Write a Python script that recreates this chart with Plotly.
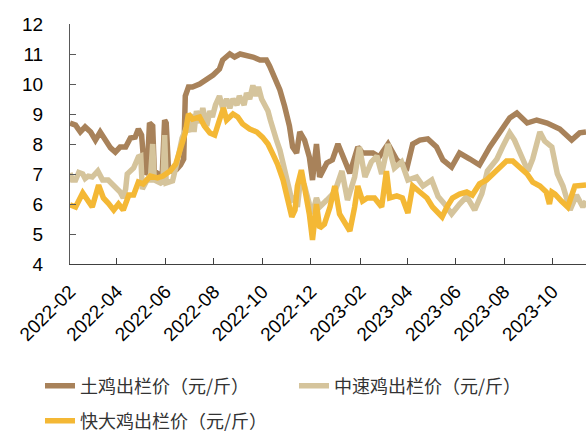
import plotly.graph_objects as go

# ---------------- data ----------------
tuji_dates = ["2022-02-01","2022-02-08","2022-02-14","2022-02-20","2022-02-27","2022-03-05","2022-03-11",
    "2022-03-18","2022-03-24","2022-03-30","2022-04-05","2022-04-12","2022-04-18","2022-04-24","2022-04-28",
    "2022-05-02","2022-05-06","2022-05-09","2022-05-12","2022-05-16","2022-05-18","2022-05-23","2022-05-28",
    "2022-05-31","2022-06-02","2022-06-05","2022-06-10","2022-06-15","2022-06-20","2022-06-24","2022-06-26",
    "2022-06-30","2022-07-05","2022-07-14","2022-07-23","2022-07-31","2022-08-08","2022-08-12","2022-08-21",
    "2022-08-27","2022-09-03","2022-09-11","2022-09-19","2022-09-28","2022-10-06","2022-10-10","2022-10-16",
    "2022-10-23","2022-10-29","2022-11-04","2022-11-08","2022-11-13","2022-11-17","2022-11-23","2022-11-29",
    "2022-12-03","2022-12-08","2022-12-12","2022-12-21","2022-12-28","2023-01-04","2023-01-10","2023-01-19",
    "2023-01-29","2023-02-04","2023-02-17","2023-02-25","2023-03-08","2023-03-19","2023-04-01","2023-04-08",
    "2023-04-17","2023-04-27","2023-05-08","2023-05-16","2023-05-27","2023-06-06","2023-06-19","2023-07-01",
    "2023-07-14","2023-07-27","2023-08-08","2023-08-17","2023-08-30","2023-09-11","2023-09-24","2023-10-10",
    "2023-10-25","2023-11-04","2023-11-12"]
tuji_values = [8.7,8.63,8.4,8.57,8.4,8.13,8.4,
    8.07,7.87,7.73,7.9,7.9,8.2,8.23,8.5,
    8.3,7.0,7.1,8.7,8.6,7.1,7.0,7.0,
    8.8,8.7,7.1,7.1,7.15,7.3,7.5,9.6,
    9.9,9.9,10.0,10.15,10.3,10.5,10.8,11.0,
    10.9,11.0,10.97,10.9,10.8,10.8,10.6,10.2,
    9.8,9.25,8.6,7.9,7.7,8.4,8.13,7.57,
    6.8,8.0,6.9,7.37,7.47,8.0,7.57,7.03,
    7.9,7.7,7.7,7.57,8.0,7.47,7.23,8.0,
    8.13,8.17,7.9,7.47,7.23,7.7,7.5,7.3,
    7.9,8.43,8.87,9.03,8.7,8.8,8.7,8.5,
    8.13,8.37,8.4]

zhongsu_dates = ["2022-02-01","2022-02-04","2022-02-08","2022-02-12","2022-02-17","2022-02-20","2022-02-24",
    "2022-03-01","2022-03-08","2022-03-11","2022-03-14","2022-03-21","2022-03-26","2022-03-30","2022-04-05",
    "2022-04-09","2022-04-12","2022-04-14","2022-04-22","2022-04-28","2022-05-01","2022-05-03","2022-05-09",
    "2022-05-13","2022-05-16","2022-05-18","2022-05-26","2022-05-29","2022-05-31","2022-06-02","2022-06-10",
    "2022-06-16","2022-06-22","2022-06-28","2022-07-01","2022-07-04","2022-07-07","2022-07-10","2022-07-14",
    "2022-07-18","2022-07-23","2022-07-27","2022-07-30","2022-08-03","2022-08-08","2022-08-12","2022-08-17",
    "2022-08-21","2022-08-25","2022-08-30","2022-09-02","2022-09-08","2022-09-11","2022-09-15","2022-09-19",
    "2022-09-23","2022-09-26","2022-09-30","2022-10-04","2022-10-08","2022-10-11","2022-10-15","2022-10-19",
    "2022-10-23","2022-10-28","2022-10-31","2022-11-04","2022-11-07","2022-11-11","2022-11-14","2022-11-17",
    "2022-11-23","2022-11-29","2022-12-03","2022-12-08","2022-12-12","2022-12-21","2022-12-31","2023-01-09",
    "2023-01-16","2023-01-25","2023-01-31","2023-02-07","2023-02-15","2023-02-22","2023-02-28","2023-03-08",
    "2023-03-16","2023-03-25","2023-04-02","2023-04-13","2023-04-21","2023-05-02","2023-05-10","2023-05-18",
    "2023-05-27","2023-06-06","2023-06-15","2023-06-25","2023-07-04","2023-07-11","2023-07-23","2023-07-30",
    "2023-08-08","2023-08-14","2023-08-23","2023-08-31","2023-09-06","2023-09-15","2023-09-21","2023-09-30",
    "2023-10-07","2023-10-14","2023-10-23","2023-10-31","2023-11-08","2023-11-12"]
zhongsu_values = [7.03,6.8,6.8,7.05,7.0,6.85,6.93,
    6.9,7.1,6.9,6.8,6.8,6.65,6.57,6.4,
    6.2,6.5,7.0,7.2,7.57,7.6,6.5,6.8,
    6.8,8.0,6.8,6.7,6.75,8.3,6.7,6.77,
    7.43,8.2,8.57,8.4,9.0,8.4,9.1,8.7,
    9.2,8.6,9.1,8.9,9.3,9.6,9.2,9.5,
    9.2,9.5,9.3,9.6,9.3,9.7,9.5,9.95,
    9.6,9.9,9.5,9.3,9.1,8.8,8.4,8.1,
    7.8,7.3,6.93,6.5,6.13,6.2,5.9,6.6,
    6.6,6.0,5.67,6.2,5.9,6.13,6.4,7.1,
    6.13,6.9,7.9,6.9,7.4,7.6,7.0,8.0,
    7.2,7.4,6.8,6.9,6.6,6.8,6.25,6.0,
    5.67,6.0,6.25,5.8,6.35,7.1,7.5,7.9,
    8.37,8.13,7.57,7.1,7.5,8.4,8.1,7.9,
    7.0,6.6,5.8,6.3,5.9,6.1]

kuaida_dates = ["2022-02-01","2022-02-08","2022-02-17","2022-02-23","2022-03-01","2022-03-09","2022-03-15",
    "2022-03-21","2022-03-28","2022-04-03","2022-04-09","2022-04-16","2022-04-22","2022-04-28","2022-05-04",
    "2022-05-13","2022-05-22","2022-05-29","2022-06-07","2022-06-14","2022-06-20","2022-06-26","2022-06-30",
    "2022-07-05","2022-07-14","2022-07-20","2022-07-27","2022-08-02","2022-08-08","2022-08-13","2022-08-17",
    "2022-08-25","2022-08-31","2022-09-06","2022-09-15","2022-09-24","2022-10-01","2022-10-08","2022-10-14",
    "2022-10-20","2022-10-27","2022-11-02","2022-11-07","2022-11-11","2022-11-14","2022-11-19","2022-11-23",
    "2022-11-29","2022-12-03","2022-12-08","2022-12-12","2022-12-18","2022-12-25","2022-12-31","2023-01-06",
    "2023-01-13","2023-01-19","2023-01-25","2023-01-29","2023-02-04","2023-02-10","2023-02-19","2023-02-28",
    "2023-03-06","2023-03-10","2023-03-19","2023-03-26","2023-04-02","2023-04-08","2023-04-17","2023-04-26",
    "2023-05-03","2023-05-15","2023-05-21","2023-05-28","2023-06-06","2023-06-15","2023-06-22","2023-07-01",
    "2023-07-10","2023-07-18","2023-07-27","2023-08-04","2023-08-12","2023-08-21","2023-08-30","2023-09-06",
    "2023-09-15","2023-09-23","2023-09-27","2023-09-30","2023-10-04","2023-10-12","2023-10-20","2023-10-29",
    "2023-11-07","2023-11-12"]
kuaida_values = [5.97,5.9,6.37,6.1,5.9,6.63,6.2,
    6.03,5.8,6.0,5.8,6.3,6.3,6.73,6.67,
    6.93,6.87,6.93,7.1,7.33,7.8,8.37,9.0,
    8.83,8.9,8.6,8.37,8.3,8.8,9.2,8.8,
    9.0,8.9,8.67,8.5,8.4,8.23,8.0,7.67,
    7.33,6.8,6.13,5.57,5.8,6.6,7.13,6.6,
    5.67,4.8,6.0,5.2,5.33,5.9,6.6,5.67,
    5.4,5.1,5.9,6.6,6.1,6.2,6.2,5.9,
    7.1,6.2,6.27,6.2,5.7,6.6,6.4,6.2,
    5.9,5.57,5.9,6.2,6.33,6.4,6.3,6.67,
    6.8,7.0,7.23,7.43,7.43,7.2,7.0,6.73,
    6.6,6.4,6.0,6.4,6.33,6.1,5.9,6.6,
    6.63,6.63]

series_names = ["土鸡出栏价（元/斤）", "中速鸡出栏价（元/斤）", "快大鸡出栏价（元/斤）"]
series_colors = ["#A8825A", "#D5C49C", "#F4B835"]

y_range = [4, 12]
x_range = ["2022-02-01", "2023-11-12"]

# ---------------- figure ----------------
fig = go.Figure()
fig.add_trace(go.Scatter(x=tuji_dates, y=tuji_values, mode="lines", name=series_names[0],
                         line=dict(color=series_colors[0], width=5.5), legend="legend"))
fig.add_trace(go.Scatter(x=zhongsu_dates, y=zhongsu_values, mode="lines", name=series_names[1],
                         line=dict(color=series_colors[1], width=5.5), legend="legend"))
fig.add_trace(go.Scatter(x=kuaida_dates, y=kuaida_values, mode="lines", name=series_names[2],
                         line=dict(color=series_colors[2], width=5.5), legend="legend2"))

axis_font = dict(family="Liberation Sans, Arial, sans-serif", size=19, color="#000000")
legend_font = dict(family="Noto Sans CJK SC, sans-serif", size=18, color="#333333")

fig.update_layout(
    width=586, height=434,
    margin=dict(l=70, r=0, t=24, b=170, autoexpand=False),
    paper_bgcolor="white", plot_bgcolor="white",
    xaxis=dict(type="date", range=x_range, tick0="2022-02-01", dtick="M2", tickformat="%Y-%m",
               tickangle=-45, tickfont=axis_font, showgrid=False, zeroline=False, automargin=False,
               showline=True, linecolor="#404040", linewidth=1,
               ticks="inside", ticklen=6, tickcolor="#404040", ticklabelstandoff=8),
    yaxis=dict(range=y_range, dtick=1, tickfont=axis_font, showgrid=False, zeroline=False,
               automargin=False,
               showline=True, linecolor="#595959", linewidth=1,
               ticks="inside", ticklen=6, tickcolor="#595959", ticklabelstandoff=22),
    legend=dict(orientation="h", xref="container", yref="container", x=40 / 586, y=1 - 386 / 434,
                xanchor="left", yanchor="middle", font=legend_font, entrywidth=209,
                entrywidthmode="pixels", bgcolor="rgba(0,0,0,0)", itemwidth=30),
    legend2=dict(orientation="h", xref="container", yref="container", x=40 / 586, y=1 - 421 / 434,
                 xanchor="left", yanchor="middle", font=legend_font, bgcolor="rgba(0,0,0,0)",
                 itemwidth=30),
    showlegend=True,
)

fig.write_html("out.html", config={"displayModeBar": False},
               post_script="document.body.style.margin='0';")
